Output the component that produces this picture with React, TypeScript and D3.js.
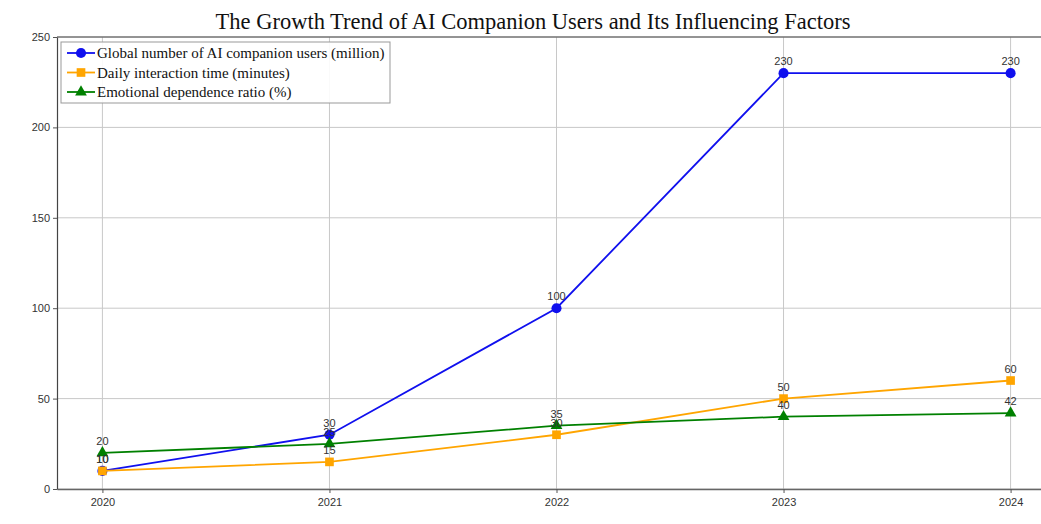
import React, { useEffect, useRef } from 'react'
import * as d3 from 'd3'

const years = [2020, 2021, 2022, 2023, 2024]
const users = [10, 30, 100, 230, 230]
const interaction = [10, 15, 30, 50, 60]
const dependence = [20, 25, 35, 40, 42]
const yTicks = [0, 50, 100, 150, 200, 250]

const seriesList = [
  { name: 'Global number of AI companion users (million)', values: users, color: '#1010ee', marker: 'circle' },
  { name: 'Daily interaction time (minutes)', values: interaction, color: '#ffa500', marker: 'square' },
  { name: 'Emotional dependence ratio (%)', values: dependence, color: '#008000', marker: 'triangle' }
]

const W = 1041
const H = 524

const App: React.FC = () => {
  const svgRef = useRef<SVGSVGElement>(null)

  useEffect(() => {
    if (!svgRef.current) return
    const svg = d3.select(svgRef.current)
    svg.selectAll('*').remove()

    const left = 57
    const top = 37
    const bottom = 489
    const right = 1056

    const x = d3.scaleLinear().domain([2019.8, 2024.2]).range([left, right])
    const y = d3.scaleLinear().domain([0, 250]).range([bottom, top])

    svg.append('rect').attr('width', W).attr('height', H).attr('fill', '#ffffff')

    // Grid
    const grid = svg.append('g')
    grid.selectAll('.gx')
      .data(years)
      .enter().append('line')
      .attr('x1', d => x(d)).attr('x2', d => x(d))
      .attr('y1', top).attr('y2', bottom)
      .attr('stroke', '#c8c8c8').attr('stroke-width', 1)
    grid.selectAll('.gy')
      .data(yTicks)
      .enter().append('line')
      .attr('x1', left).attr('x2', right)
      .attr('y1', d => y(d)).attr('y2', d => y(d))
      .attr('stroke', '#c8c8c8').attr('stroke-width', 1)

    // Axes
    const xAxis = svg.append('g')
      .attr('transform', `translate(0,${bottom})`)
      .call(d3.axisBottom(x).tickValues(years).tickFormat(d3.format('d')).tickSize(4).tickSizeOuter(0))
    xAxis.select('.domain').attr('stroke', '#666').attr('stroke-width', 1.6)
    xAxis.selectAll('.tick line').attr('stroke', '#555')
    xAxis.selectAll('.tick text')
      .attr('fill', '#333')
      .attr('dy', '0.9em')
      .style('font-family', 'Liberation Sans, Arial, sans-serif')
      .style('font-size', '11px')

    const yAxis = svg.append('g')
      .attr('transform', `translate(${left},0)`)
      .call(d3.axisLeft(y).tickValues(yTicks).tickSize(4).tickSizeOuter(0))
    yAxis.select('.domain').attr('stroke', '#444').attr('stroke-width', 1.2)
    yAxis.selectAll('.tick line').attr('stroke', '#555')
    yAxis.selectAll('.tick text')
      .attr('fill', '#333')
      .style('font-family', 'Liberation Sans, Arial, sans-serif')
      .style('font-size', '11px')

    // Top spine
    svg.append('line')
      .attr('x1', left).attr('x2', right)
      .attr('y1', top).attr('y2', top)
      .attr('stroke', '#444').attr('stroke-width', 1.2)

    // Lines
    const line = d3.line<number>()
      .x((_, i) => x(years[i]))
      .y(d => y(d))

    const symbolFor = (m: string) =>
      m === 'circle' ? d3.symbol(d3.symbolCircle, 80)
        : m === 'square' ? d3.symbol(d3.symbolSquare, 75)
          : d3.symbol(d3.symbolTriangle, 60)

    seriesList.forEach(s => {
      svg.append('path')
        .attr('d', line(s.values))
        .attr('fill', 'none')
        .attr('stroke', s.color)
        .attr('stroke-width', 1.8)

      svg.selectAll(null)
        .data(s.values)
        .enter().append('path')
        .attr('transform', (d, i) => `translate(${x(years[i])},${y(d)})`)
        .attr('d', symbolFor(s.marker)())
        .attr('fill', s.color)
    })

    // Value labels (they overlap in places, as in the original)
    seriesList.forEach(s => {
      svg.selectAll(null)
        .data(s.values)
        .enter().append('text')
        .attr('x', (_, i) => x(years[i]))
        .attr('y', d => y(d) - 8)
        .attr('text-anchor', 'middle')
        .attr('fill', '#333')
        .style('font-family', 'Liberation Sans, Arial, sans-serif')
        .style('font-size', '11px')
        .text(d => d)
    })

    // Title
    svg.append('text')
      .attr('x', 533)
      .attr('y', 29)
      .attr('text-anchor', 'middle')
      .attr('fill', '#111')
      .style('font-family', 'Liberation Serif, Times New Roman, serif')
      .style('font-size', '22.5px')
      .text('The Growth Trend of AI Companion Users and Its Influencing Factors')

    // Legend
    const legend = svg.append('g').attr('transform', 'translate(61,42)')
    legend.append('rect')
      .attr('width', 329).attr('height', 61)
      .attr('fill', '#ffffff').attr('fill-opacity', 0.9)
      .attr('stroke', '#999').attr('stroke-width', 1)
    seriesList.forEach((s, i) => {
      const ly = 11 + i * 19.5
      legend.append('line')
        .attr('x1', 6).attr('x2', 34)
        .attr('y1', ly).attr('y2', ly)
        .attr('stroke', s.color).attr('stroke-width', 1.8)
      legend.append('path')
        .attr('transform', `translate(20,${ly})`)
        .attr('d', symbolFor(s.marker)())
        .attr('fill', s.color)
      legend.append('text')
        .attr('x', 36)
        .attr('y', ly + 5)
        .attr('fill', '#111')
        .style('font-family', 'Liberation Serif, Times New Roman, serif')
        .style('font-size', '15px')
        .text(s.name)
    })
  }, [])

  return (
    <svg
      ref={svgRef}
      width={W}
      height={H}
      style={{ position: 'absolute', left: 0, top: 0 }}
    />
  )
}

export default App
